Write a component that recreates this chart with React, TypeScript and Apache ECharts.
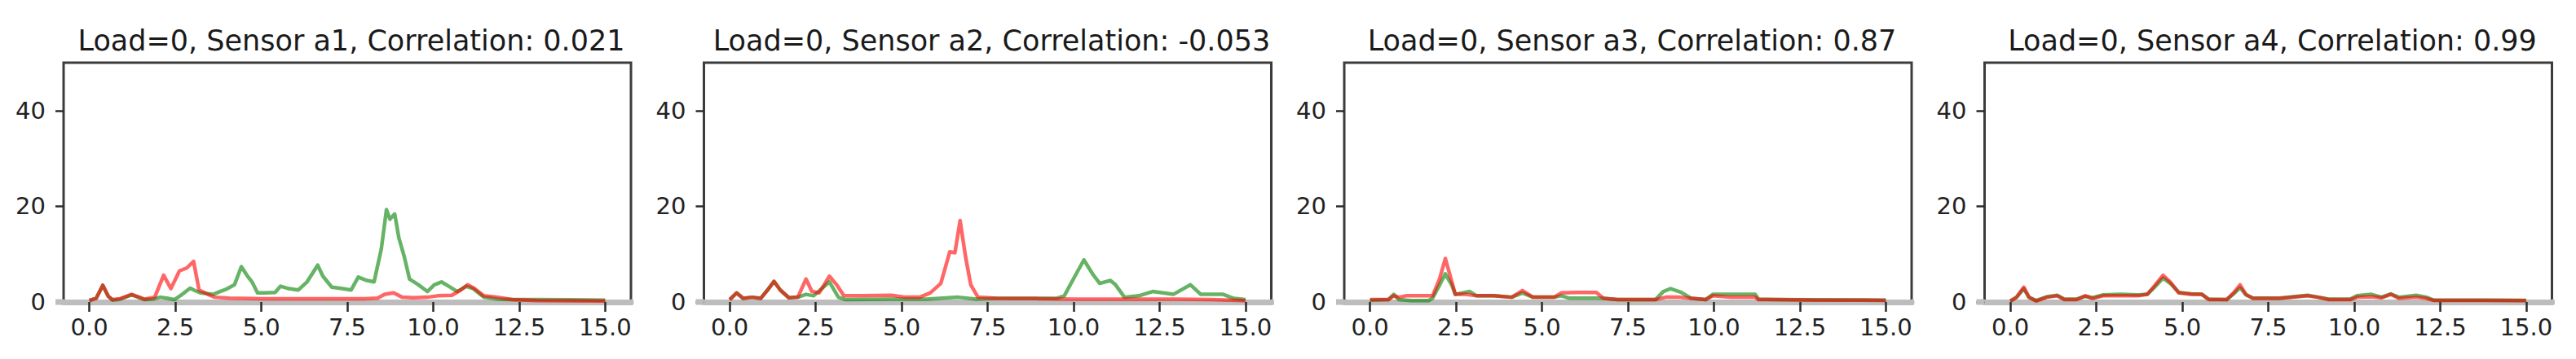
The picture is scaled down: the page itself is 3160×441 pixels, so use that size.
import React, { useEffect, useRef } from "react";
import * as echarts from "echarts";

const panelTitles = [
  "Load=0, Sensor a1, Correlation: 0.021",
  "Load=0, Sensor a2, Correlation: -0.053",
  "Load=0, Sensor a3, Correlation: 0.87",
  "Load=0, Sensor a4, Correlation: 0.99",
];

const xTicks = [0, 2.5, 5, 7.5, 10, 12.5, 15];
const yTicks = [0, 20, 40];

const a1Green = [[0,0.3],[0.2,0.8],[0.39,3.5],[0.55,1.2],[0.67,0.4],[0.9,0.6],[1.23,1.5],[1.45,0.9],[1.6,0.5],[1.85,0.6],[2.06,1.0],[2.25,0.8],[2.47,0.5],[2.7,1.6],[2.93,2.9],[3.1,2.3],[3.24,1.9],[3.6,1.6],[3.8,2.2],[3.96,2.6],[4.22,3.6],[4.42,7.4],[4.58,5.6],[4.73,4.2],[4.89,1.9],[5.1,1.9],[5.4,2.0],[5.56,3.3],[5.8,2.8],[6.07,2.5],[6.33,4.2],[6.64,7.7],[6.79,5.4],[7.05,3.1],[7.36,2.8],[7.61,2.5],[7.82,5.2],[8.07,4.5],[8.28,4.2],[8.49,11.1],[8.64,19.3],[8.74,17.3],[8.88,18.4],[9.0,13.4],[9.16,9.4],[9.31,4.8],[9.57,3.6],[9.83,2.2],[10.03,3.6],[10.24,4.2],[10.45,3.3],[10.7,2.2],[10.96,3.3],[11.16,2.8],[11.47,1.0],[11.88,0.6],[12.3,0.5],[13,0.5],[14,0.45],[15,0.4]];
const a1Red = [[0,0.3],[0.2,0.8],[0.39,3.5],[0.55,1.2],[0.67,0.5],[0.9,0.7],[1.23,1.6],[1.45,1.0],[1.6,0.6],[1.9,1.0],[2.16,5.6],[2.37,2.8],[2.62,6.5],[2.83,7.1],[3.03,8.5],[3.19,2.5],[3.45,1.6],[3.65,1.0],[4.06,0.8],[5,0.7],[6,0.7],[7,0.7],[8,0.7],[8.38,0.8],[8.59,1.6],[8.85,1.9],[9.1,1.0],[9.4,0.9],[9.83,1.0],[10.13,1.3],[10.54,1.4],[10.8,2.5],[11.0,3.6],[11.2,2.8],[11.47,1.3],[11.88,1.0],[12.3,0.5],[13,0.3],[14,0.25],[15,0.2]];

const a2Green = [[0,0.5],[0.2,1.9],[0.39,0.75],[0.65,1.0],[0.9,0.75],[1.1,2.5],[1.29,4.3],[1.47,2.5],[1.72,0.9],[1.98,1.0],[2.22,1.6],[2.44,1.3],[2.9,4.2],[3.16,1.0],[3.37,0.5],[4.7,0.6],[5.73,0.6],[6.65,1.0],[7.17,0.6],[7.8,0.75],[9.5,0.75],[9.73,1.3],[10.04,5.4],[10.3,8.8],[10.55,5.9],[10.76,3.9],[11.07,4.5],[11.22,3.6],[11.48,1.0],[11.9,1.3],[12.3,2.2],[12.6,1.9],[12.9,1.6],[13.4,3.6],[13.7,1.6],[14.35,1.6],[14.66,0.75],[15,0.5]];
const a2Red = [[0,0.5],[0.2,1.9],[0.39,0.75],[0.65,1.0],[0.9,0.75],[1.1,2.5],[1.29,4.3],[1.47,2.5],[1.72,0.9],[1.98,1.0],[2.22,4.8],[2.39,2.2],[2.6,1.9],[2.9,5.4],[3.11,3.6],[3.32,1.3],[3.88,1.3],[4.7,1.4],[5.11,1.0],[5.52,1.0],[5.83,1.9],[6.14,3.9],[6.4,10.5],[6.55,10.3],[6.7,17.0],[6.86,9.4],[7.01,3.6],[7.22,1.0],[7.78,0.75],[9,0.7],[10,0.6],[11,0.6],[12,0.6],[13,0.6],[14,0.5],[15,0.3]];

const a3Green = [[0,0.4],[0.53,0.5],[0.69,1.6],[0.84,0.5],[1.2,0.3],[1.7,0.3],[1.82,0.8],[2.02,3.5],[2.19,5.9],[2.38,3.5],[2.48,1.6],[2.9,2.2],[3.1,1.3],[3.6,1.3],[4.12,1.0],[4.43,1.9],[4.74,1.0],[5.35,1.0],[5.56,1.3],[5.8,0.8],[6.58,0.8],[6.79,0.75],[7.2,0.5],[8.3,0.5],[8.53,2.2],[8.74,2.8],[9.05,2.0],[9.35,0.75],[9.76,0.5],[9.97,1.6],[11.2,1.6],[11.3,0.6],[11.8,0.5],[13,0.45],[15,0.4]];
const a3Red = [[0,0.5],[0.53,0.5],[0.69,1.3],[0.84,1.0],[1.05,1.3],[1.82,1.3],[2.02,4.8],[2.19,9.1],[2.38,4.2],[2.48,1.6],[2.79,1.6],[3.1,1.3],[3.6,1.3],[4.12,1.0],[4.43,2.4],[4.74,1.0],[5.35,1.0],[5.56,1.9],[6.0,2.0],[6.58,2.0],[6.79,0.75],[7.2,0.5],[8.3,0.5],[8.6,1.0],[9.0,1.0],[9.35,0.75],[9.76,0.5],[9.97,1.3],[10.5,1.0],[11.2,1.0],[11.3,0.5],[11.8,0.5],[13,0.4],[15,0.35]];

const a4Green = [[0,0.2],[0.18,1.0],[0.39,2.8],[0.54,1.0],[0.75,0.3],[1.06,1.1],[1.36,1.4],[1.57,0.6],[1.93,0.6],[2.18,1.2],[2.39,0.9],[2.7,1.5],[3.21,1.6],[3.72,1.5],[3.98,1.6],[4.18,3.0],[4.44,5.0],[4.65,3.9],[4.9,2.0],[5.26,1.7],[5.57,1.6],[5.77,0.6],[6.29,0.5],[6.49,1.7],[6.68,3.0],[6.85,1.5],[7.06,0.8],[7.83,0.8],[8.65,1.4],[8.95,1.0],[9.26,0.6],[9.88,0.6],[10.08,1.3],[10.5,1.6],[10.8,1.0],[11.06,1.7],[11.3,1.0],[11.8,1.4],[12.1,1.0],[12.3,0.4],[15,0.35]];
const a4Red = [[0,0.2],[0.18,1.0],[0.39,3.1],[0.54,1.0],[0.75,0.2],[1.06,1.0],[1.36,1.3],[1.57,0.5],[1.93,0.5],[2.18,1.3],[2.39,0.75],[2.7,1.3],[3.21,1.3],[3.72,1.3],[3.98,1.6],[4.18,3.3],[4.44,5.6],[4.65,4.2],[4.9,1.9],[5.26,1.6],[5.57,1.6],[5.77,0.5],[6.29,0.5],[6.49,1.9],[6.68,3.6],[6.85,1.6],[7.06,0.75],[7.83,0.75],[8.65,1.3],[8.95,1.0],[9.26,0.5],[9.88,0.5],[10.08,1.0],[10.5,1.1],[10.8,0.9],[11.06,1.6],[11.3,0.75],[11.8,1.0],[12.1,0.75],[12.3,0.35],[15,0.3]];

const greenSeries = [a1Green, a2Green, a3Green, a4Green];
const redSeries = [a1Red, a2Red, a3Red, a4Red];

const FONT = "DejaVu Sans";
const GRID_LEFTS = [78, 863.5, 1649, 2434.5];
const GRID_W = 696;
const GRID_TOP = 77;
const GRID_H = 294;

export default function App() {
  const ref = useRef<HTMLDivElement>(null);
  useEffect(() => {
    document.body.style.margin = "0";
    const chart = echarts.init(ref.current!, undefined, { renderer: "svg" });
    const grids: any[] = [];
    const xAxes: any[] = [];
    const yAxes: any[] = [];
    const titles: any[] = [];
    const series: any[] = [];
    const graphics: any[] = [];
    GRID_LEFTS.forEach((left, i) => {
      grids.push({
        left, top: GRID_TOP, width: GRID_W, height: GRID_H,
        show: true, borderColor: "#3c3c3c", borderWidth: 3, backgroundColor: "transparent",
      });
      xAxes.push({
        type: "value", gridIndex: i, min: -0.75, max: 15.75,
        splitLine: { show: false },
        axisLine: { show: true, onZero: false, lineStyle: { color: "#bdbdbd", width: 7 } },
        axisTick: { show: true, customValues: xTicks, length: 12, lineStyle: { color: "#2a2a2a", width: 2.5 } },
        axisLabel: {
          customValues: xTicks, formatter: (v: number) => v.toFixed(1),
          fontFamily: FONT, fontSize: 29, color: "#222", margin: 16,
        },
      });
      yAxes.push({
        type: "value", gridIndex: i, min: 0, max: 50,
        splitLine: { show: false },
        axisLine: { show: false, onZero: false },
        axisTick: { show: true, customValues: yTicks, length: 10, lineStyle: { color: "#2a2a2a", width: 2.5 } },
        axisLabel: { customValues: yTicks, fontFamily: FONT, fontSize: 29, color: "#222", margin: 22 },
      });
      titles.push({
        text: panelTitles[i], left: left + GRID_W / 2, top: 27, textAlign: "center",
        textStyle: { fontFamily: FONT, fontSize: 35, fontWeight: "normal", color: "#1a1a1a" },
      });
      series.push({
        type: "line", xAxisIndex: i, yAxisIndex: i, data: greenSeries[i], showSymbol: false,
        lineStyle: { color: "#008000", width: 4.5, opacity: 0.6, join: "round" }, z: 3,
      });
      series.push({
        type: "line", xAxisIndex: i, yAxisIndex: i, data: redSeries[i], showSymbol: false,
        lineStyle: { color: "#ff0000", width: 4.5, opacity: 0.6, join: "round" }, z: 4,
      });
      graphics.push({
        type: "rect", z: 100,
        shape: { x: left - 10, y: GRID_TOP + GRID_H - 3.5, width: 10, height: 7 },
        style: { fill: "#bdbdbd" },
      });
      graphics.push({
        type: "rect", z: 100,
        shape: { x: left + GRID_W, y: GRID_TOP + GRID_H - 3.5, width: 3, height: 7 },
        style: { fill: "#bdbdbd" },
      });
    });
    chart.setOption({
      animation: false,
      backgroundColor: "#ffffff",
      title: titles,
      grid: grids,
      xAxis: xAxes,
      yAxis: yAxes,
      series,
      graphic: graphics,
    });
    return () => chart.dispose();
  }, []);
  return <div ref={ref} style={{ position: "fixed", left: 0, top: 0, width: 3160, height: 441 }} />;
}
